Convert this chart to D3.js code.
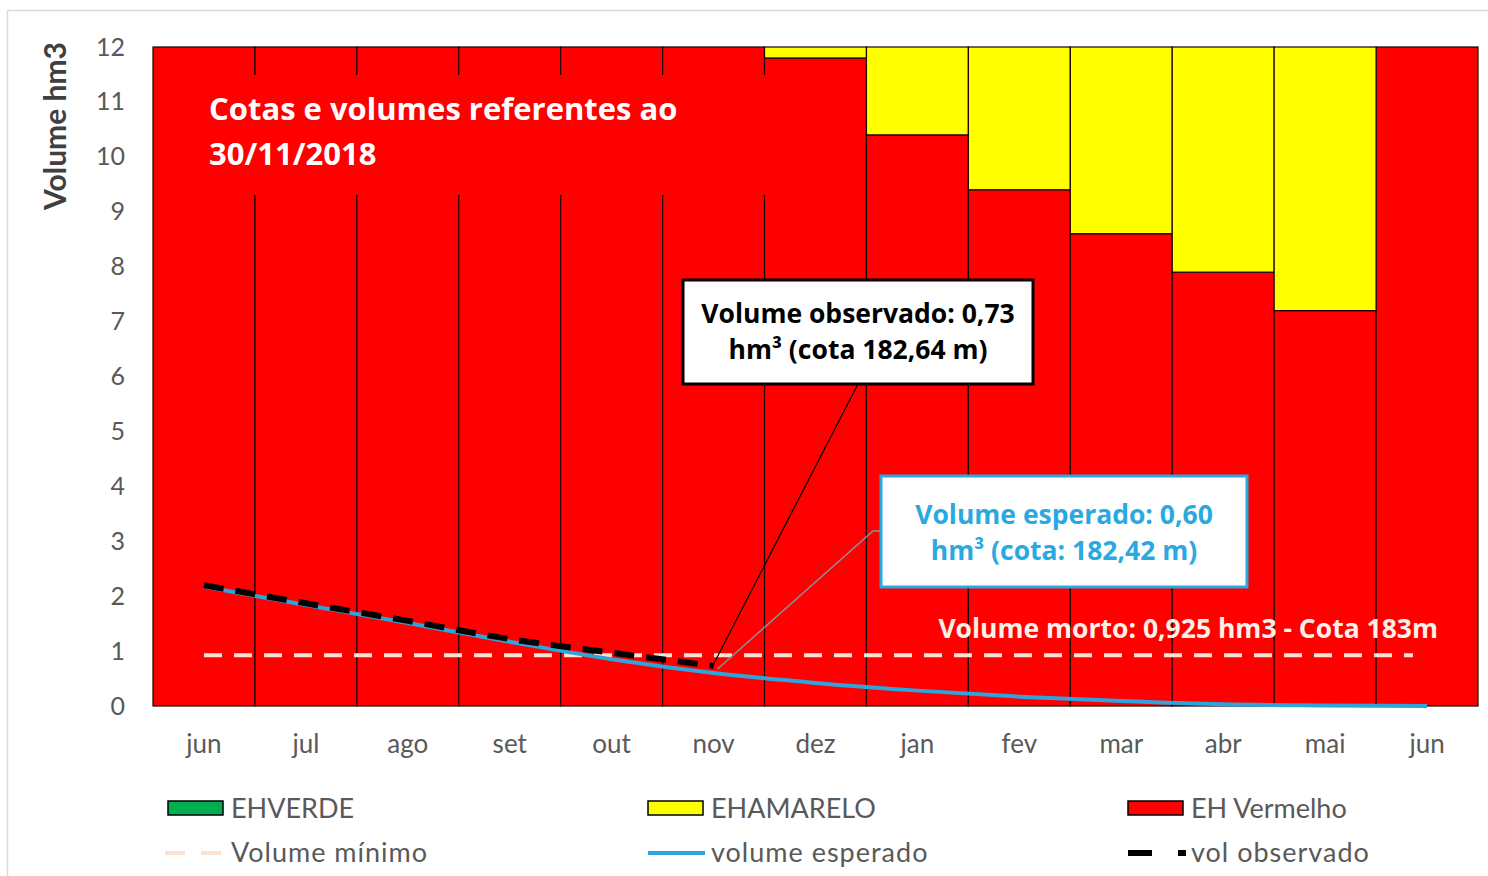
<!DOCTYPE html>
<html>
<head>
<meta charset="utf-8">
<script src="https://cdn.jsdelivr.net/npm/d3@7"></script>
<style>
  body { margin: 0; background: #fff; }
  svg { display: block; font-family: Lato, "Open Sans", sans-serif; }
  .bold { font-family: "Open Sans", Lato, sans-serif; font-weight: bold; }
</style>
</head>
<body>
<div id="chart-area"></div>
<script>
// data
const months = ["jun", "jul", "ago", "set", "out", "nov", "dez", "jan", "fev", "mar", "abr", "mai", "jun"]
const ehVerde = [0, 0, 0, 0, 0, 0, 0, 0, 0, 0, 0, 0, 0]
const ehVermelho = [12, 12, 12, 12, 12, 12, 11.8, 10.4, 9.4, 8.6, 7.9, 7.2, 12]
const ehAmarelo = [0, 0, 0, 0, 0, 0, 0.2, 1.6, 2.6, 3.4, 4.1, 4.8, 0]
const volumeEsperado = [2.17, 1.84, 1.51, 1.17, 0.85, 0.60, 0.42, 0.28, 0.17, 0.09, 0.03, 0.01, 0.0]
const volObservado = [2.2, 1.87, 1.55, 1.22, 0.97, 0.73]
const volumeMinimo = [0.925, 0.925, 0.925, 0.925, 0.925, 0.925, 0.925, 0.925, 0.925, 0.925, 0.925, 0.925, 0.925]
const yTicks = [0, 1, 2, 3, 4, 5, 6, 7, 8, 9, 10, 11, 12]

const RED = "#ff0000"
const YELLOW = "#ffff00"
const GREEN = "#00b050"
const BLUE = "#2ea3dc"
const PEACH = "#fbe3d3"

const svg = d3.select("#chart-area")
    .append("svg")
    .attr("width", 1488)
    .attr("height", 876)

// frame
svg.append("path")
    .attr("d", "M7.5,876 V10.5 H1488")
    .attr("fill", "none")
    .attr("stroke", "#d9d9d9")
    .attr("stroke-width", 1.5)

const x = d3.scaleBand()
    .domain(d3.range(months.length))
    .range([153, 1478])
    .padding(0)

const y = d3.scaleLinear()
    .domain([0, 12])
    .range([706, 47])

const cx = i => x(i) + x.bandwidth() / 2

// stacked bars
const table = months.map((m, i) => ({ i: i, verde: ehVerde[i], vermelho: ehVermelho[i], amarelo: ehAmarelo[i] }))
const stack = d3.stack().keys(["verde", "vermelho", "amarelo"])(table)
const colors = { verde: GREEN, vermelho: RED, amarelo: YELLOW }

svg.append("g").selectAll("g")
    .data(stack)
    .enter().append("g")
    .attr("fill", d => colors[d.key])
    .selectAll("rect")
    .data(d => d.filter(p => p[1] - p[0] > 0))
    .enter().append("rect")
    .attr("x", d => x(d.data.i))
    .attr("width", x.bandwidth())
    .attr("y", d => y(d[1]))
    .attr("height", d => y(d[0]) - y(d[1]))
    .attr("stroke", "#1a0000")
    .attr("stroke-width", 1.2)

// red title box
svg.append("rect")
    .attr("x", 195).attr("y", 75)
    .attr("width", 605).attr("height", 120)
    .attr("fill", RED)

svg.append("text")
    .attr("class", "bold")
    .attr("x", 209).attr("y", 120)
    .attr("font-size", "31px")
    .attr("fill", "#fff")
    .text("Cotas e volumes referentes ao")
svg.append("text")
    .attr("class", "bold")
    .attr("x", 209).attr("y", 165)
    .attr("font-size", "31px")
    .attr("fill", "#fff")
    .text("30/11/2018")

// y axis
const yAxis = d3.axisLeft(y).tickValues(yTicks).tickSize(0).tickPadding(28)
const gy = svg.append("g")
    .attr("transform", "translate(153,0)")
    .call(yAxis)
gy.select(".domain").remove()
gy.selectAll("text")
    .attr("font-family", "Lato, sans-serif")
    .attr("font-size", "25px")
    .attr("fill", "#595959")

svg.append("text")
    .attr("transform", "translate(66,126) rotate(-90)")
    .attr("text-anchor", "middle")
    .attr("font-size", "30px").attr("font-weight", "bold")
    .attr("fill", "#404040")
    .text("Volume hm3")

// x axis
const xAxis = d3.axisBottom(x).tickSize(0).tickFormat(i => months[i])
const gx = svg.append("g")
    .attr("transform", "translate(0,706)")
    .call(xAxis)
gx.select(".domain").remove()
gx.selectAll("text")
    .attr("y", 47).attr("dy", 0)
    .attr("font-family", "Lato, sans-serif")
    .attr("font-size", "26px")
    .attr("fill", "#595959")

// lines
const line = d3.line()
    .x((d, i) => cx(i))
    .y(d => y(d))

svg.append("path")
    .datum(volumeMinimo)
    .attr("d", d3.line().x((d, i) => i == volumeMinimo.length - 1 ? cx(i) - 14 : cx(i)).y(d => y(d)))
    .attr("fill", "none")
    .attr("stroke", PEACH)
    .attr("stroke-width", 4)
    .attr("stroke-dasharray", "18,12")

svg.append("path")
    .datum(volumeEsperado)
    .attr("d", line.curve(d3.curveMonotoneX))
    .attr("fill", "none")
    .attr("stroke", BLUE)
    .attr("stroke-width", 4)

svg.append("path")
    .datum(volObservado)
    .attr("d", d3.line().x((d, i) => cx(i)).y(d => y(d)).curve(d3.curveMonotoneX))
    .attr("fill", "none")
    .attr("stroke", "#000")
    .attr("stroke-width", 6)
    .attr("stroke-dasharray", "20,12")

// volume morto label
svg.append("text")
    .attr("class", "bold")
    .attr("x", 1438).attr("y", 638)
    .attr("text-anchor", "end")
    .attr("font-size", "26.5px")
    .attr("fill", "#fdf0e8")
    .text("Volume morto: 0,925 hm3 - Cota 183m")

// callout: observado
const nObs = volObservado.length - 1
svg.append("line")
    .attr("x1", 858).attr("y1", 384)
    .attr("x2", cx(nObs) - 2).attr("y2", y(volObservado[nObs]) + 2)
    .attr("stroke", "#000").attr("stroke-width", 1.2)

svg.append("rect")
    .attr("x", 683).attr("y", 280)
    .attr("width", 350).attr("height", 104)
    .attr("fill", "#fff")
    .attr("stroke", "#000").attr("stroke-width", 3)
svg.append("text")
    .attr("class", "bold")
    .attr("x", 858).attr("y", 323)
    .attr("text-anchor", "middle")
    .attr("font-size", "26.5px")
    .attr("fill", "#000")
    .text("Volume observado: 0,73")
svg.append("text")
    .attr("class", "bold")
    .attr("x", 858).attr("y", 359)
    .attr("text-anchor", "middle")
    .attr("font-size", "26.5px")
    .attr("fill", "#000")
    .text("hm³ (cota 182,64 m)")

// callout: esperado
const nEsp = 5
svg.append("path")
    .attr("d", `M882,531 H873 L${cx(nEsp) + 4},${y(volumeEsperado[nEsp]) - 4}`)
    .attr("fill", "none")
    .attr("stroke", "#8a8fa0").attr("stroke-width", 1.5)

svg.append("rect")
    .attr("x", 881).attr("y", 476)
    .attr("width", 366).attr("height", 111)
    .attr("fill", "#fff")
    .attr("stroke", "#29a9e0").attr("stroke-width", 3)
svg.append("text")
    .attr("class", "bold")
    .attr("x", 1064).attr("y", 524)
    .attr("text-anchor", "middle")
    .attr("font-size", "26.5px")
    .attr("fill", "#29a9e0")
    .text("Volume esperado: 0,60")
svg.append("text")
    .attr("class", "bold")
    .attr("x", 1064).attr("y", 560)
    .attr("text-anchor", "middle")
    .attr("font-size", "26.5px")
    .attr("fill", "#29a9e0")
    .text("hm³ (cota: 182,42 m)")

// legend
const legendRects = [
    { x: 168, label: "EHVERDE", color: GREEN },
    { x: 648, label: "EHAMARELO", color: YELLOW },
    { x: 1128, label: "EH Vermelho", color: RED }
]
const lr = svg.append("g").selectAll("g")
    .data(legendRects)
    .enter().append("g")
lr.append("rect")
    .attr("x", d => d.x).attr("y", 801)
    .attr("width", 55).attr("height", 14)
    .attr("fill", d => d.color)
    .attr("stroke", "#000").attr("stroke-width", 1.5)
lr.append("text")
    .attr("x", d => d.x + 63).attr("y", 818)
    .attr("font-size", "27px")
    .attr("fill", "#595959")
    .text(d => d.label)

const legY = 853
svg.append("line")
    .attr("x1", 165).attr("x2", 222).attr("y1", legY).attr("y2", legY)
    .attr("stroke", PEACH).attr("stroke-width", 4)
    .attr("stroke-dasharray", "20,16")
svg.append("line")
    .attr("x1", 648).attr("x2", 705).attr("y1", legY).attr("y2", legY)
    .attr("stroke", BLUE).attr("stroke-width", 4)
svg.append("line")
    .attr("x1", 1128).attr("x2", 1186).attr("y1", legY).attr("y2", legY)
    .attr("stroke", "#000").attr("stroke-width", 6)
    .attr("stroke-dasharray", "24,26")
svg.append("line")
    .attr("x1", 1178).attr("x2", 1186).attr("y1", legY).attr("y2", legY)
    .attr("stroke", "#000").attr("stroke-width", 6)

const legendLines = [
    { x: 231, label: "Volume mínimo" },
    { x: 711, label: "volume esperado" },
    { x: 1191, label: "vol observado" }
]
svg.append("g").selectAll("text")
    .data(legendLines)
    .enter().append("text")
    .attr("x", d => d.x).attr("y", 862)
    .attr("font-size", "27px")
    .attr("letter-spacing", "1px")
    .attr("fill", "#595959")
    .text(d => d.label)
</script>
</body>
</html>
